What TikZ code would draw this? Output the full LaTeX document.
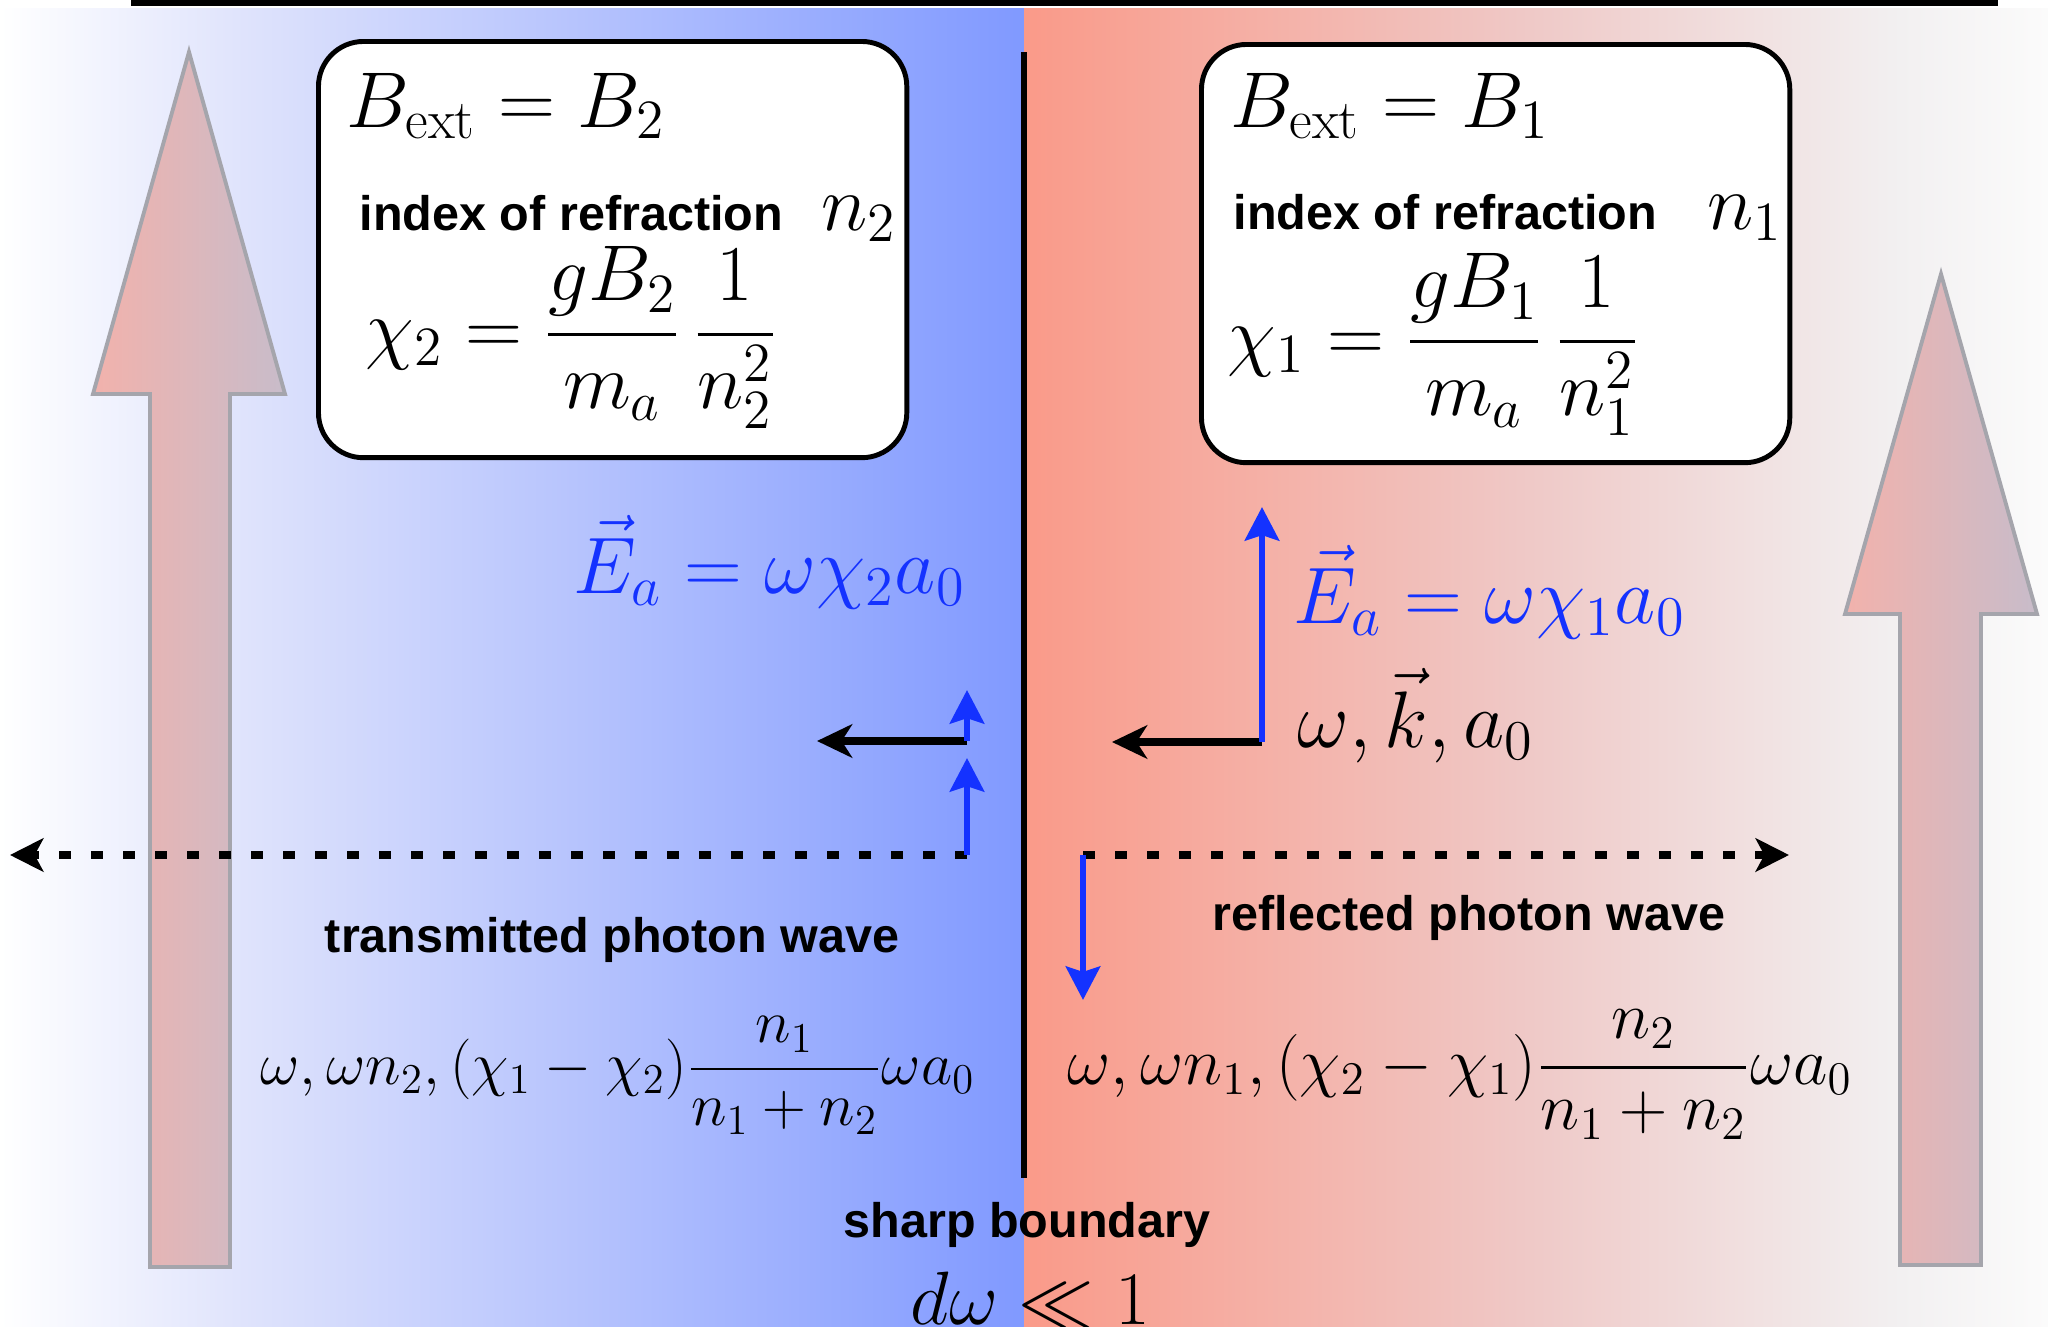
\RequirePackage{fix-cm}
\documentclass[tikz,border=0pt]{standalone}
\usepackage{amsmath}
\usepackage{fontspec}
\newfontfamily\hel{Liberation Sans}
\usetikzlibrary{arrows.meta}
\definecolor{bla}{RGB}{224,228,252}
\definecolor{blb}{RGB}{128,153,255}
\definecolor{sra}{RGB}{250,154,137}
\definecolor{srb}{RGB}{239,200,198}
\definecolor{src}{RGB}{242,240,241}
\definecolor{srd}{RGB}{251,251,251}
\definecolor{arL}{RGB}{242,178,172}
\definecolor{arR}{RGB}{200,188,202}
\definecolor{arS}{RGB}{165,165,172}
\definecolor{eblue}{RGB}{20,50,255}
\tikzset{
  bx/.style={draw=black, line width=1.4pt, rounded corners=0.45cm, fill=white, inner sep=0},
  lbl/.style={font=\hel\bfseries\fontsize{13.8}{16}\selectfont, inner sep=0},
  mbig/.style={font=\fontsize{22.5}{27}\selectfont, inner sep=0, anchor=base west},
  mlab/.style={font=\fontsize{22.8}{27}\selectfont, inner sep=0, anchor=base west},
  bigarrow/.style={left color=arL, right color=arR, draw=arS, line width=1.1pt},
  blk/.style={draw=black, line width=2pt, -{Stealth[length=10pt,width=9.5pt,inset=3pt]}},
  blu/.style={draw=eblue, line width=1.9pt, -{Stealth[length=9.5pt,width=9.7pt,inset=1.5pt]}},
  dsh/.style={draw=black, line width=2.3pt, dash pattern=on 3.4pt off 5.7pt, -{Stealth[length=9.5pt,width=9.5pt,inset=2.5pt]}},
}
\begin{document}
\begin{tikzpicture}[x=0.01cm,y=-0.01cm]
\useasboundingbox (0,0) rectangle (2048,1327);
% background
\shade[left color=white, right color=bla] (0,8) rectangle (236,1327);
\shade[left color=bla, right color=blb] (235,8) rectangle (1025,1327);
\shade[left color=sra, right color=srb] (1024,8) rectangle (1521,1327);
\shade[left color=srb, right color=src] (1520,8) rectangle (1901,1327);
\shade[left color=src, right color=srd] (1900,8) rectangle (2048,1327);
% top bar
\fill[black] (131,0) rectangle (1998,6);
% big arrows
\shade[bigarrow] (189,52) -- (285,394) -- (230,394) -- (230,1267) -- (150,1267) -- (150,394) -- (93,394) -- cycle;
\shade[bigarrow] (1941,274) -- (2037,614) -- (1981,614) -- (1981,1265) -- (1900,1265) -- (1900,614) -- (1845,614) -- cycle;
% boundary
\coordinate (bt) at (1024,52);
\coordinate (bb) at (1024,1178);
\draw[line width=1.7pt] (bt) -- (bb);
% boxes
\node[bx, anchor=north west, minimum width=5.88cm, minimum height=4.16cm] (boxL) at (316,39) {};
\node[bx, anchor=north west, minimum width=5.88cm, minimum height=4.18cm] (boxR) at (1199,42) {};
% box texts
\node[mbig] (bL) at (346,127) {$B_{\mathrm{ext}} = B_2$};
\node[lbl, anchor=base west] (iL) at (359,230) {index of refraction};
\node[mbig] (nL) at (821,230) {$n_2$};
\node[mbig] (cL) at (365,354) {$\chi_2 = \dfrac{gB_2}{m_a}\,\dfrac{1}{n_2^2}$};
\node[mbig] (bR) at (1230,127) {$B_{\mathrm{ext}} = B_1$};
\node[lbl, anchor=base west] (iR) at (1233,229) {index of refraction};
\node[mbig] (nR) at (1707,229) {$n_1$};
\node[mbig] (cR) at (1227,361) {$\chi_1 = \dfrac{gB_1}{m_a}\,\dfrac{1}{n_1^2}$};
% field labels
\node[mlab, text=eblue] (eL) at (573,593) {$\vec{E}_a = \omega\chi_2 a_0$};
\node[mlab, text=eblue] (eR) at (1293,623) {$\vec{E}_a = \omega\chi_1 a_0$};
\node[mlab] (wk) at (1297,747) {$\omega, \vec{k}, a_0$};
% wave labels
\node[lbl, anchor=base] (tL) at (612,952) {transmitted photon wave};
\node[lbl, anchor=base] (rL) at (1469,930) {reflected photon wave};
\node[lbl, anchor=base] (sb) at (1027,1237) {sharp boundary};
\node[mbig, font=\fontsize{21.5}{26}\selectfont] (dw) at (910,1324) {$d\omega \ll 1$};
\node[inner sep=0, anchor=base west, font=\fontsize{17.25}{20}\selectfont] (fL) at (260,1084) {$\omega, \omega n_2, (\chi_1 - \chi_2)\dfrac{n_1}{n_1+n_2}\omega a_0$};
\node[inner sep=0, anchor=base west, font=\fontsize{19}{22}\selectfont] (fR) at (1067,1084) {$\omega, \omega n_1, (\chi_2 - \chi_1)\dfrac{n_2}{n_1+n_2}\omega a_0$};
% connector points
\coordinate (Lc) at (967,741);
\coordinate (Lk) at (817,741);
\coordinate (Lu) at (967,690);
\coordinate (Ld) at (967,855);
\coordinate (Lm) at (967,758);
\coordinate (Lend) at (10,855);
\coordinate (Rc) at (1262,742);
\coordinate (Rk) at (1112,742);
\coordinate (Ru) at (1262,507);
\coordinate (Rd) at (1083,855);
\coordinate (Rend) at (1789,855);
\coordinate (Rdn) at (1083,1000);
% arrows
\draw[dsh] (Ld) -- (Lend);
\draw[dsh] (Rd) -- (Rend);
\draw[blk] (Lc) -- (Lk);
\draw[blk] (Rc) -- (Rk);
\draw[blu] (Lc) -- (Lu);
\draw[blu] (Ld) -- (Lm);
\draw[blu] (Rc) -- (Ru);
\draw[blu] (Rd) -- (Rdn);
\end{tikzpicture}
\end{document}
